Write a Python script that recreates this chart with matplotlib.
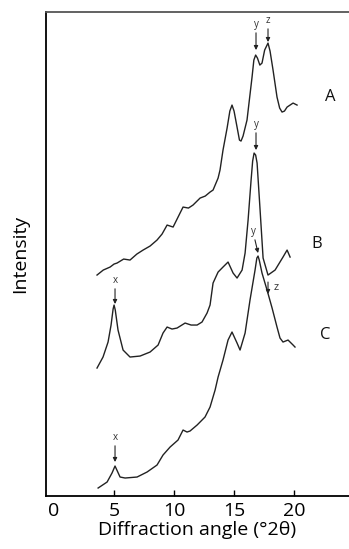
"""XRD patterns A, B, C (stacked), recreated from a scanned figure."""

import matplotlib
matplotlib.use("Agg")
import matplotlib.pyplot as plt

plt.rcParams["font.family"] = ["Open Sans", "DejaVu Sans"]

# curve A (top)
a_angle = [3.58, 4.1, 4.67, 5.0, 5.25, 5.8, 6.33, 6.9, 7.42, 8.0, 8.58, 9.0, 9.42, 9.67, 9.92,
           10.5, 10.75, 11.2, 11.58, 12.17, 12.6, 13.0, 13.25, 13.67, 13.83, 14.08, 14.42,
           14.65, 14.83, 15.0, 15.25, 15.45, 15.58, 15.75, 16.08, 16.5, 16.65, 16.8, 16.95,
           17.15, 17.33, 17.55, 17.83, 18.0, 18.25, 18.58, 18.8, 19.0, 19.2, 19.42, 19.92,
           20.25]
a_int = [221, 226, 229, 232, 233, 237, 236, 242, 246, 250, 256, 262, 271, 270, 269,
         283, 289, 288, 291, 298, 300, 304, 306, 318, 326, 346, 368,
         385, 391, 385, 369, 356, 355, 360, 376, 419, 436, 441, 438,
         431, 433, 446, 453, 445, 426, 399, 388, 384, 385, 389, 393,
         391]

# curve B (middle)
b_angle = [3.58, 4.08, 4.5, 4.75, 4.92, 5.0, 5.1, 5.33, 5.75, 6.33, 7.17, 8.0, 8.67, 9.08,
           9.42, 9.83, 10.25, 10.92, 11.42, 11.92, 12.33, 12.75, 13.0, 13.25, 13.67, 14.08,
           14.5, 14.92, 15.25, 15.67, 15.92, 16.17, 16.42, 16.55, 16.67, 16.8, 16.92, 17.17,
           17.42, 17.83, 18.42, 19.08, 19.42, 19.67]
b_int = [128, 139, 154, 171, 187, 191, 186, 166, 146, 139, 140, 144, 151, 163,
         169, 167, 168, 173, 171, 171, 174, 183, 191, 213, 224, 229,
         234, 223, 218, 226, 243, 276, 316, 335, 343, 341, 333, 286,
         238, 221, 226, 239, 246, 239]

# curve C (bottom)
c_angle = [3.67, 4.42, 4.83, 5.08, 5.5, 5.92, 6.92, 7.75, 8.58, 9.08, 9.67, 10.33, 10.75,
           11.08, 11.33, 11.92, 12.58, 13.0, 13.42, 13.67, 14.08, 14.5, 14.83, 15.25,
           15.5, 15.92, 16.33, 16.75, 16.9, 17.0, 17.1, 17.33, 17.75, 18.17, 18.58, 18.83,
           19.08, 19.5, 19.92, 20.08]
c_int = [8, 14, 23, 30, 19, 18, 19, 24, 31, 41, 49, 56, 66,
         64, 65, 71, 79, 89, 106, 119, 136, 156, 164, 153,
         146, 163, 196, 226, 238, 240, 236, 223, 206, 188, 169, 158,
         154, 156, 151, 149]

curve_names = ["A", "B", "C"]
name_pos = [(23.0, 399), (21.9, 252), (22.6, 161)]

# peak markers: (letter, text xy, arrow tip xy)
markers = [
    ("y", (16.83, 466), (16.83, 446)),
    ("z", (17.83, 470), (17.83, 454)),
    ("y", (16.83, 366), (16.83, 346)),
    ("x", (5.08, 210), (5.08, 192)),
    ("y", (16.58, 259), (17.0, 243)),
    ("x", (5.08, 53), (5.08, 34)),
]

fig = plt.figure(figsize=(3.49, 5.49), dpi=100)
ax = fig.add_axes([0.132, 0.0965, 0.868, 0.8815])

for xs, ys in [(a_angle, a_int), (b_angle, b_int), (c_angle, c_int)]:
    ax.plot(xs, ys, color="#222222", lw=1.0)

for letter, txt, tip in markers:
    ax.annotate(letter, xy=tip, xytext=txt, ha="center", va="bottom", fontsize=7,
                color="#333333",
                arrowprops=dict(arrowstyle="-|>", color="#222222", lw=0.8,
                                mutation_scale=6, shrinkA=0, shrinkB=0))

# z shoulder on curve C, label sits to the right of the arrow
ax.annotate("", xy=(17.83, 202), xytext=(17.83, 214),
            arrowprops=dict(arrowstyle="-|>", color="#222222", lw=0.8,
                            mutation_scale=6, shrinkA=0, shrinkB=0))
ax.text(18.3, 209, "z", fontsize=8, color="#333333", va="center")

for name, (nx, ny) in zip(curve_names, name_pos):
    ax.text(nx, ny, name, fontsize=12, ha="center", va="center", color="#111111")

ax.set_xlim(-0.667, 24.58)
ax.set_ylim(0, 484)
ax.set_xticks([0, 5, 10, 15, 20])
ax.set_yticks([])
ax.tick_params(axis="x", direction="in", length=4, width=1, labelsize=14, pad=4)
ax.xaxis.get_major_ticks()[0].tick1line.set_visible(False)
ax.spines["right"].set_visible(False)
for s in ["left", "bottom", "top"]:
    ax.spines[s].set_linewidth(1.3)
ax.spines["top"].set_color("#555555")
ax.set_xlabel("Diffraction angle (°2θ)", fontsize=14, labelpad=1)
ax.set_ylabel("Intensity", fontsize=14, labelpad=12)

fig.savefig("out.png", dpi=100)
